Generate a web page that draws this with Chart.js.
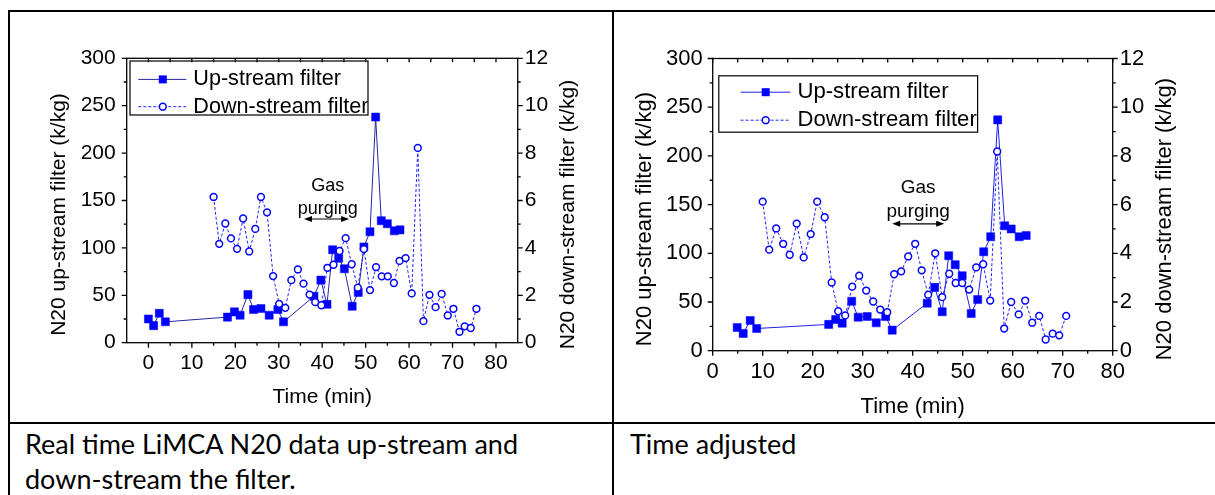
<!DOCTYPE html>
<html>
<head>
<meta charset="utf-8">
<script src="https://cdn.jsdelivr.net/npm/chart.js@4.4.1/dist/chart.umd.min.js"></script>
<style>
  html, body { margin: 0; padding: 0; background: #fff; }
  body { width: 1215px; height: 495px; position: relative; overflow: hidden; }
  .rule { position: absolute; background: #000; }
  .cell { position: absolute; width: 600px; height: 408px; }
  .cell canvas { display: block; }
  .caption { position: absolute; font-family: Lato, 'Noto Sans', sans-serif; font-size: 27px; line-height: 35px; color: #000; white-space: nowrap; }
</style>
</head>
<body>
<div class="rule" style="left:8px;top:10px;width:1207px;height:2px"></div>
<div class="rule" style="left:8px;top:10px;width:2px;height:485px"></div>
<div class="rule" style="left:612px;top:10px;width:2px;height:485px"></div>
<div class="rule" style="left:8px;top:422px;width:1207px;height:2px"></div>

<div class="cell" style="left:10px;top:12px"><canvas id="chartA" width="600" height="408"></canvas></div>
<div class="cell" style="left:614px;top:12px"><canvas id="chartB" width="600" height="408"></canvas></div>

<div class="caption" style="left:25px;top:426px">Real time LiMCA N20 data up-stream and<br>down-stream the filter.</div>
<div class="caption" style="left:630px;top:426px">Time adjusted</div>

<script>
// tick labels
const timeTicks = [0, 10, 20, 30, 40, 50, 60, 70, 80];
const upTicks = [0, 50, 100, 150, 200, 250, 300];
const downTicks = [0, 2, 4, 6, 8, 10, 12];

// real time chart (left)
const upTimeA = [0, 1.2, 2.5, 3.9, 18.2, 19.8, 21.1, 22.9, 24.2, 25.9, 27.8, 29.8, 31.1, 38.1, 39.7, 41.1, 42.4, 43.8, 45.1, 46.9, 48.3, 49.6, 51.0, 52.3, 53.6, 55.0, 56.6, 57.9];
const upValueA = [25, 18, 31, 22, 27, 32.5, 29, 50.7, 35, 36, 29, 35, 22, 49, 66, 40.5, 98, 89, 78, 38.5, 53, 101, 117, 238, 128.7, 125.5, 118, 119];
const downTimeA = [15.0, 16.3, 17.7, 19.0, 20.4, 21.8, 23.2, 24.6, 25.9, 27.3, 28.7, 30.1, 31.5, 32.9, 34.4, 35.7, 37.1, 38.4, 39.8, 41.2, 42.6, 44.0, 45.4, 46.8, 48.2, 49.6, 51.0, 52.4, 53.7, 55.1, 56.5, 57.8, 59.2, 60.6, 62.0, 63.3, 64.7, 66.1, 67.5, 68.9, 70.2, 71.6, 72.8, 74.2, 75.5];
const downValueA = [6.15, 4.17, 5.03, 4.4, 3.96, 5.24, 3.85, 4.8, 6.15, 5.5, 2.81, 1.64, 1.47, 2.64, 3.09, 2.49, 2.03, 1.71, 1.58, 3.16, 3.29, 3.87, 4.41, 3.31, 2.32, 3.95, 2.22, 3.19, 2.8, 2.8, 2.52, 3.45, 3.57, 2.08, 8.22, 0.91, 2.02, 1.5, 2.06, 1.15, 1.43, 0.46, 0.69, 0.62, 1.43];

// time adjusted chart (right)
const upTimeB = [4.9, 6.1, 7.5, 8.8, 23.2, 24.6, 25.9, 27.8, 29.1, 30.9, 32.7, 34.6, 35.9, 42.9, 44.4, 45.9, 47.2, 48.5, 49.9, 51.7, 53.0, 54.2, 55.6, 57.0, 58.4, 59.7, 61.3, 62.7];
const upValueB = [23.9, 17.7, 31, 22.8, 27, 32, 28.3, 50.8, 34.4, 35.1, 28.6, 35.1, 21.1, 48.8, 65, 40, 97.5, 88.3, 77, 38.2, 52.5, 101.6, 117, 237, 128.2, 125, 117, 118.3];
const downTimeB = [10.0, 11.3, 12.7, 14.1, 15.4, 16.8, 18.2, 19.6, 20.9, 22.4, 23.8, 25.1, 26.5, 27.9, 29.3, 30.7, 32.1, 33.5, 34.9, 36.3, 37.7, 39.1, 40.5, 41.8, 43.1, 44.5, 45.9, 47.3, 48.6, 49.9, 51.3, 52.7, 54.1, 55.5, 56.9, 58.3, 59.7, 61.2, 62.5, 63.9, 65.3, 66.6, 68.0, 69.3, 70.7];
const downValueB = [6.12, 4.15, 5.02, 4.39, 3.94, 5.22, 3.83, 4.79, 6.12, 5.48, 2.8, 1.62, 1.45, 2.63, 3.08, 2.47, 2.02, 1.69, 1.58, 3.14, 3.26, 3.87, 4.39, 3.3, 2.3, 4.0, 2.2, 3.16, 2.78, 2.78, 2.51, 3.42, 3.55, 2.06, 8.18, 0.91, 2.0, 1.49, 2.06, 1.15, 1.43, 0.46, 0.7, 0.63, 1.43];

const FONT = "'Liberation Sans', Arial, sans-serif";
Chart.defaults.font.family = FONT;
Chart.defaults.color = '#000';

const pairs = (xs, ys) => xs.map((x, i) => ({ x: x, y: ys[i] }));

// axis box, tick marks, y titles, legend and the gas purging note
const framePlugin = {
    id: 'frame',
    afterDatasetsDraw(chart, args, o) {
        const ctx = chart.ctx;
        const a = chart.chartArea;
        const sx = chart.scales.x, sy = chart.scales.y, s2 = chart.scales.y2;
        ctx.save();
        ctx.strokeStyle = '#000';
        ctx.lineWidth = 1.3;
        ctx.beginPath();
        for (let v = 0; v <= 80; v += 5) {
            const px = sx.getPixelForValue(v);
            const len = v % 10 === 0 ? 5 : 3;
            ctx.moveTo(px, a.bottom); ctx.lineTo(px, a.bottom + len);
            ctx.moveTo(px, a.top); ctx.lineTo(px, a.top + 4);
        }
        for (let v = 0; v <= 300; v += 25) {
            const py = sy.getPixelForValue(v);
            ctx.moveTo(a.left, py); ctx.lineTo(a.left - (v % 50 === 0 ? 5 : 3), py);
        }
        for (let v = 0; v <= 12; v += 1) {
            const py = s2.getPixelForValue(v);
            ctx.moveTo(a.right, py); ctx.lineTo(a.right + (v % 2 === 0 ? 5 : 3), py);
        }
        ctx.stroke();
        ctx.strokeRect(a.left, a.top, a.right - a.left, a.bottom - a.top);

        // both y titles read bottom to top
        const t = o.titles;
        ctx.fillStyle = '#000';
        ctx.font = t.size + 'px ' + FONT;
        ctx.textAlign = 'center';
        ctx.textBaseline = 'middle';
        const cy = (a.top + a.bottom) / 2 + t.dy;
        [[t.leftX, 'N20 up-stream filter (k/kg)'], [t.rightX, 'N20 down-stream filter (k/kg)']].forEach(([x, text]) => {
            ctx.save();
            ctx.translate(x, cy);
            ctx.rotate(-Math.PI / 2);
            ctx.fillText(text, 0, 0);
            ctx.restore();
        });

        // legend
        const L = o.legend;
        const lx = a.left + L.x, ly = a.top + L.y;
        ctx.lineWidth = 1.2;
        ctx.strokeRect(lx, ly, L.w, L.h);
        const rows = [L.row1, L.row2];
        ctx.font = L.size + 'px ' + FONT;
        ctx.textAlign = 'left';
        chart.data.datasets.slice().reverse().forEach((ds, i) => {
            const ry = ly + rows[i];
            ctx.save();
            ctx.strokeStyle = ds.borderColor;
            ctx.lineWidth = 1;
            ctx.setLineDash(ds.borderDash || []);
            ctx.beginPath();
            ctx.moveTo(lx + L.lineFrom, ry); ctx.lineTo(lx + L.lineTo, ry);
            ctx.stroke();
            ctx.restore();
            const mx = lx + L.marker;
            if (ds.pointStyle === 'rect') {
                ctx.fillStyle = ds.pointBackgroundColor;
                ctx.fillRect(mx - 4, ry - 4, 8, 8);
            } else {
                ctx.beginPath();
                ctx.arc(mx, ry, ds.pointRadius, 0, Math.PI * 2);
                ctx.fillStyle = '#fff';
                ctx.fill();
                ctx.lineWidth = ds.pointBorderWidth;
                ctx.strokeStyle = ds.pointBorderColor;
                ctx.stroke();
            }
            ctx.fillStyle = '#000';
            ctx.fillText(ds.label, lx + L.text, ry);
        });

        // gas purging note
        const n = o.note;
        ctx.font = n.size + 'px ' + FONT;
        ctx.textAlign = 'center';
        ctx.fillStyle = '#000';
        ctx.fillText('Gas', sx.getPixelForValue(n.textX), sy.getPixelForValue(n.gasY));
        ctx.fillText('purging', sx.getPixelForValue(n.textX), sy.getPixelForValue(n.purgingY));
        const x1 = sx.getPixelForValue(n.x1), x2 = sx.getPixelForValue(n.x2), ay = sy.getPixelForValue(n.arrowY);
        ctx.strokeStyle = '#000';
        ctx.lineWidth = 1.2;
        ctx.beginPath();
        ctx.moveTo(x1 + 4, ay); ctx.lineTo(x2 - 4, ay);
        ctx.stroke();
        ctx.beginPath();
        ctx.moveTo(x1, ay); ctx.lineTo(x1 + 8, ay - 3); ctx.lineTo(x1 + 8, ay + 3); ctx.closePath();
        ctx.moveTo(x2, ay); ctx.lineTo(x2 - 8, ay - 3); ctx.lineTo(x2 - 8, ay + 3); ctx.closePath();
        ctx.fill();
        ctx.restore();
    }
};

function buildChart(id, g, upTime, upValue, downTime, downValue) {
    const tickFont = { family: FONT, size: g.font };
    return new Chart(document.getElementById(id), {
        type: 'scatter',
        data: {
            datasets: [{
                label: 'Down-stream filter',
                data: pairs(downTime, downValue),
                yAxisID: 'y2',
                showLine: true,
                borderColor: '#2222ff',
                borderWidth: 1,
                borderDash: [3, 2],
                pointStyle: 'circle',
                pointRadius: 3.4,
                pointBackgroundColor: '#fff',
                pointBorderColor: '#0000ff',
                pointBorderWidth: 1.5,
                order: 1
            }, {
                label: 'Up-stream filter',
                data: pairs(upTime, upValue),
                yAxisID: 'y',
                showLine: true,
                borderColor: g.upLine,
                borderWidth: 1,
                pointStyle: 'rect',
                pointRadius: 5.7,
                pointBackgroundColor: '#0000ff',
                pointBorderColor: '#0000ff',
                pointBorderWidth: 0.5,
                order: 2
            }]
        },
        options: {
            responsive: false,
            animation: false,
            events: [],
            layout: { padding: { top: g.padTop, left: 0, right: 0, bottom: 0 } },
            plugins: {
                legend: { display: false },
                tooltip: { enabled: false },
                frame: { legend: g.legend, note: g.note, titles: g.titles }
            },
            scales: {
                x: {
                    type: 'linear',
                    min: g.xMin,
                    max: g.xMax,
                    afterBuildTicks: s => { s.ticks = timeTicks.map(v => ({ value: v })); },
                    afterFit: s => { s.height = g.xHeight; },
                    grid: { display: false, drawTicks: false },
                    border: { display: false },
                    ticks: { font: tickFont, padding: g.xPad, maxRotation: 0, autoSkip: false },
                    title: { display: true, text: 'Time (min)', font: tickFont, padding: { top: 0, bottom: g.xTitlePad } }
                },
                y: {
                    type: 'linear',
                    position: 'left',
                    min: 0,
                    max: 300,
                    afterBuildTicks: s => { s.ticks = upTicks.map(v => ({ value: v })); },
                    afterFit: s => { s.width = g.yWidth; },
                    grid: { display: false, drawTicks: false },
                    border: { display: false },
                    ticks: { font: tickFont, padding: g.yPad }
                },
                y2: {
                    type: 'linear',
                    position: 'right',
                    min: 0,
                    max: 12,
                    afterBuildTicks: s => { s.ticks = downTicks.map(v => ({ value: v })); },
                    afterFit: s => { s.width = g.y2Width; },
                    grid: { display: false, drawTicks: false },
                    border: { display: false },
                    ticks: { font: tickFont, padding: g.y2Pad }
                }
            }
        },
        plugins: [framePlugin]
    });
}

buildChart('chartA', {
    font: 21, upLine: '#26269e',
    xMin: -5, xMax: 85,
    padTop: 46.3, xHeight: 77.3, yWidth: 116.7, y2Width: 92.3,
    xPad: 8, yPad: 11, y2Pad: 7,
    xTitlePad: 10,
    titles: { size: 21, leftX: 49.5, rightX: 558, dy: 14 },
    legend: { x: 3.3, y: 2.7, w: 238, h: 54, row1: 18.4, row2: 45.7, lineFrom: 8.3, lineTo: 56.3, marker: 32.8, text: 63.3, size: 21.6 },
    note: { size: 18, textX: 41.3, gasY: 164.8, purgingY: 141, arrowY: 130.5, x1: 35.8, x2: 46.2 }
}, upTimeA, upValueA, downTimeA, downValueA);

buildChart('chartB', {
    font: 22, upLine: '#1f1ff0',
    xMin: 0, xMax: 80,
    padTop: 46.5, xHeight: 69.3, yWidth: 98.7, y2Width: 101.3,
    xPad: 8, yPad: 10, y2Pad: 7,
    xTitlePad: 0,
    titles: { size: 22, leftX: 31, rightX: 551, dy: 14.5 },
    legend: { x: 6.1, y: 17.3, w: 258.8, h: 56.4, row1: 16.4, row2: 44.4, lineFrom: 21.8, lineTo: 71.6, marker: 46.9, text: 78.7, size: 22.1 },
    note: { size: 19, textX: 41.1, gasY: 166.8, purgingY: 142.7, arrowY: 130.3, x1: 35.9, x2: 46.3 }
}, upTimeB, upValueB, downTimeB, downValueB);
</script>
</body>
</html>
